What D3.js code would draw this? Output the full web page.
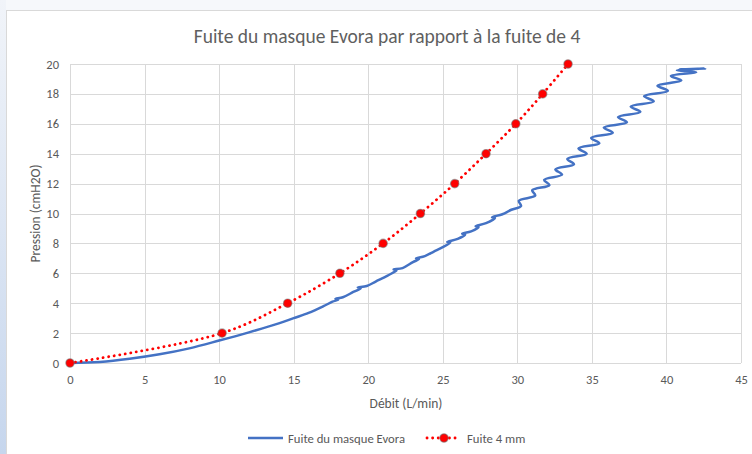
<!DOCTYPE html>
<html lang="fr">
<head>
<meta charset="UTF-8">
<title>Fuite du masque Evora</title>
<style>
  html, body { margin: 0; padding: 0; background: #f6f8fb; }
  svg { display: block; }
  text { font-family: Carlito, Calibri, Lato, sans-serif; fill: #595959; }
  .grid line { stroke: #d9d9d9; stroke-width: 1; }
</style>
<script src="https://d3js.org/d3.v7.min.js"></script>
</head>
<body>
<div id="chart"></div>
<script>
  // tick labels
  var xTicks = [0, 5, 10, 15, 20, 25, 30, 35, 40, 45];
  var yTicks = [0, 2, 4, 6, 8, 10, 12, 14, 16, 18, 20];

  // Fuite 4 mm
  var fuite4Debit = [0, 10.2, 14.6, 18.1, 21.0, 23.5, 25.8, 27.9, 29.9, 31.7, 33.4];
  var fuite4Pression = [0, 2, 4, 6, 8, 10, 12, 14, 16, 18, 20];

  // Fuite du masque Evora : measured curve [debit, pression], wiggly at high flow
  var evora = [
    [0, 0], [2, 0.07], [4, 0.28], [6, 0.58], [8, 0.98], [10, 1.5], [12, 2.05],
    [14, 2.65], [15, 3.0], [16, 3.35], [17, 3.8], [17.6, 4.1], [18.0, 4.25],
    [17.8, 4.3], [18.3, 4.4], [19.0, 4.75], [19.5, 5.0], [19.3, 5.05], [19.9, 5.15],
    [20.5, 5.45], [21.3, 5.85], [21.9, 6.2], [21.7, 6.25], [22.3, 6.35], [23.0, 6.75],
    [23.4, 6.95], [23.2, 7.0], [23.8, 7.15], [24.4, 7.45], [25.0, 7.75], [25.5, 8.05],
    [25.3, 8.1], [26.0, 8.3], [26.5, 8.6], [26.3, 8.65], [26.9, 8.8], [27.4, 9.1],
    [27.2, 9.15], [27.9, 9.35], [28.5, 9.7], [28.3, 9.75], [29.0, 9.95], [29.6, 10.25],
    [30.25, 10.5], [30.1, 10.85], [31.2, 11.2], [31.0, 11.55], [32.15, 11.9], [31.8, 12.25],
    [33.0, 12.6], [32.55, 12.95], [33.8, 13.3], [33.35, 13.65], [34.65, 14.0], [34.1, 14.35],
    [35.5, 14.7], [34.95, 15.05], [36.4, 15.4], [35.8, 15.75], [37.35, 16.1], [36.75, 16.45],
    [38.25, 16.8], [37.6, 17.15], [39.15, 17.5], [38.5, 17.85], [40.1, 18.2], [39.4, 18.55],
    [41.0, 18.9], [40.3, 19.2], [42.0, 19.45], [40.7, 19.58], [42.6, 19.7], [40.9, 19.64],
    [42.5, 19.7]
  ];

  var width = 752, height = 454;
  var svg = d3.select("#chart").append("svg")
    .attr("width", width)
    .attr("height", height);

  // window background: pale blue strip on the left
  var grad = svg.append("defs").append("linearGradient")
    .attr("id", "side").attr("x1", 0).attr("y1", 0).attr("x2", 0).attr("y2", 1);
  grad.append("stop").attr("offset", "0%").attr("stop-color", "#f1f4f9");
  grad.append("stop").attr("offset", "100%").attr("stop-color", "#c6d6ed");
  svg.append("rect").attr("x", 0).attr("y", 0).attr("width", 6).attr("height", height)
    .attr("fill", "url(#side)");

  // chart frame
  svg.append("rect")
    .attr("x", 6.5).attr("y", 10.5)
    .attr("width", 760).attr("height", 460)
    .attr("fill", "#ffffff")
    .attr("stroke", "#d9d9d9");

  var x = d3.scaleLinear().domain([0, 45]).range([70, 741]);
  var y = d3.scaleLinear().domain([0, 20]).range([363, 64]);

  // gridlines
  svg.append("g").attr("class", "grid")
    .selectAll("line.v").data(xTicks).enter().append("line")
    .attr("x1", d => Math.round(x(d)) + 0.5).attr("x2", d => Math.round(x(d)) + 0.5)
    .attr("y1", y(20)).attr("y2", y(0));
  svg.append("g").attr("class", "grid")
    .selectAll("line.h").data(yTicks).enter().append("line")
    .attr("x1", x(0)).attr("x2", x(45))
    .attr("y1", d => Math.round(y(d)) + 0.5).attr("y2", d => Math.round(y(d)) + 0.5);

  // axes (labels only)
  var xAxis = svg.append("g")
    .attr("transform", "translate(0," + y(0) + ")")
    .call(d3.axisBottom(x).tickValues(xTicks).tickSize(0).tickPadding(12));
  var yAxis = svg.append("g")
    .attr("transform", "translate(" + x(0) + ",0)")
    .call(d3.axisLeft(y).tickValues(yTicks).tickSize(0).tickPadding(11));
  [xAxis, yAxis].forEach(function (a) {
    a.select(".domain").remove();
    a.selectAll("text").attr("font-family", null).style("font-size", "12.5px").style("fill", "#595959");
  });

  // title and axis titles
  svg.append("text")
    .attr("x", 387).attr("y", 43)
    .attr("text-anchor", "middle")
    .style("font-size", "19.5px")
    .style("fill", "#5f5f5f")
    .text("Fuite du masque Evora par rapport à la fuite de 4");

  svg.append("text")
    .attr("x", 406).attr("y", 408)
    .attr("text-anchor", "middle")
    .style("font-size", "13.5px")
    .text("Débit (L/min)");

  svg.append("text")
    .attr("transform", "translate(40," + (y(10)) + ") rotate(-90)")
    .attr("text-anchor", "middle")
    .style("font-size", "13.5px")
    .text("Pression (cmH2O)");

  // series
  var lineSmooth = d3.line()
    .x(d => x(d[0])).y(d => y(d[1]))
    .curve(d3.curveCatmullRom.alpha(0.5));

  svg.append("path")
    .datum(evora)
    .attr("d", lineSmooth)
    .attr("fill", "none")
    .attr("stroke", "#4472c4")
    .attr("stroke-width", 2.5)
    .attr("stroke-linejoin", "round");

  var fuite4 = fuite4Debit.map((d, i) => [d, fuite4Pression[i]]);

  svg.append("path")
    .datum(fuite4)
    .attr("d", lineSmooth)
    .attr("fill", "none")
    .attr("stroke", "#ff0000")
    .attr("stroke-width", 2.8)
    .attr("stroke-linecap", "round")
    .attr("stroke-dasharray", "0.1 5.5");

  svg.append("g").selectAll("circle")
    .data(fuite4).enter().append("circle")
    .attr("cx", d => x(d[0])).attr("cy", d => y(d[1]))
    .attr("r", 4.2)
    .attr("fill", "#ff0000")
    .attr("stroke", "rgba(110,110,110,0.55)")
    .attr("stroke-width", 1.2);

  // legend
  var lg = svg.append("g").attr("transform", "translate(0,438)");
  lg.append("line").attr("x1", 248).attr("x2", 283).attr("y1", 0).attr("y2", 0)
    .attr("stroke", "#4472c4").attr("stroke-width", 2.5);
  lg.append("text").attr("x", 288).attr("y", 4.5).style("font-size", "12.7px")
    .text("Fuite du masque Evora");
  lg.append("line").attr("x1", 427).attr("x2", 460).attr("y1", 0).attr("y2", 0)
    .attr("stroke", "#ff0000").attr("stroke-width", 2.8)
    .attr("stroke-linecap", "round").attr("stroke-dasharray", "0.1 5.5");
  lg.append("circle").attr("cx", 444).attr("cy", 0).attr("r", 4.2)
    .attr("fill", "#ff0000").attr("stroke", "rgba(110,110,110,0.55)").attr("stroke-width", 1.2);
  lg.append("text").attr("x", 467).attr("y", 4.5).style("font-size", "12.7px")
    .text("Fuite 4 mm");
</script>
</body>
</html>
